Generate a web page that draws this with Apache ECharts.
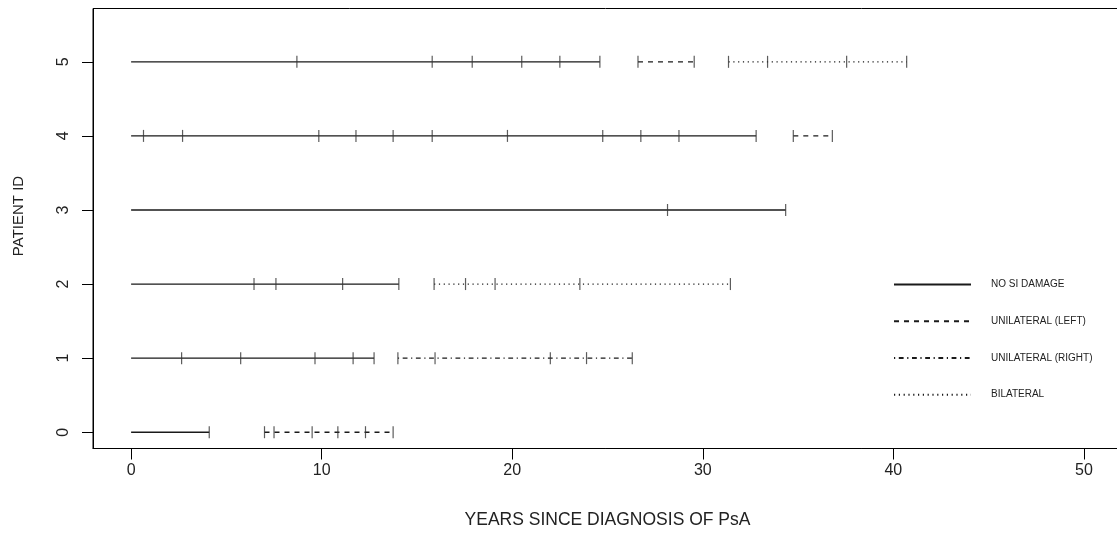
<!DOCTYPE html>
<html>
<head>
<meta charset="utf-8">
<script src="https://cdn.jsdelivr.net/npm/echarts@6/dist/echarts.min.js"></script>
<style>
  html, body { margin: 0; padding: 0; background: #fff; }
  #chart { width: 1117px; height: 533px; }
</style>
</head>
<body>
<div id="chart"></div>
<script>
// Disease states, in legend order
const stateNames = ['NO SI DAMAGE', 'UNILATERAL (LEFT)', 'UNILATERAL (RIGHT)', 'BILATERAL'];

// Visit times (years since diagnosis) per patient, grouped by the state observed
const p0None = [0, 4.1];
const p0Left = [7.0, 7.5, 9.5, 10.85, 12.3, 13.75];

const p1None = [0, 2.65, 5.75, 9.65, 11.65, 12.75];
const p1Right = [14.0, 15.95, 22.0, 23.9, 26.3];

const p2None = [0, 6.45, 7.6, 11.1, 14.05];
const p2Bilateral = [15.9, 17.55, 19.1, 23.55, 31.45];

const p3None = [0, 28.15, 34.35];

const p4None = [0, 0.65, 2.7, 9.85, 11.8, 13.75, 15.8, 19.75, 24.75, 26.75, 28.75, 32.8];
const p4Left = [34.75, 36.8];

const p5None = [0, 8.7, 15.8, 17.9, 20.5, 22.5, 24.6];
const p5Left = [26.6, 29.55];
const p5Bilateral = [31.35, 33.4, 37.55, 40.7];

// Axis tick labels
const xTicks = [0, 10, 20, 30, 40, 50];
const yTicks = [0, 1, 2, 3, 4, 5];

// Runs of one state: [patient id, visit times]
const runsByState = [
  [[0, p0None], [1, p1None], [2, p2None], [3, p3None], [4, p4None], [5, p5None]],
  [[0, p0Left], [4, p4Left], [5, p5Left]],
  [[1, p1Right]],
  [[2, p2Bilateral], [5, p5Bilateral]]
];

const dashes = [null, [5, 5], [1.2, 3.6, 4.8, 3.6], [1.2, 3.6]];
const ink = '#1a1a1a';

// One line series per state; '-' breaks the line between patients
const lineSeries = runsByState.map((runs, s) => {
  const data = [];
  runs.forEach(([id, times], i) => {
    if (i > 0) data.push('-');
    data.push([times[0], id]);
    data.push([times[times.length - 1], id]);
  });
  return {
    type: 'line',
    name: stateNames[s],
    data: data,
    symbol: 'none',
    connectNulls: false,
    silent: true,
    lineStyle: { color: ink, width: 1.35, type: dashes[s] ? dashes[s] : 'solid' },
    itemStyle: { color: ink }
  };
});

// Short vertical marks at every visit after diagnosis
const visitPoints = [];
runsByState.forEach(runs => runs.forEach(([id, times]) => {
  times.forEach(t => { if (t > 0) visitPoints.push([t, id]); });
}));

const tickSeries = {
  type: 'scatter',
  data: visitPoints,
  symbol: 'rect',
  symbolSize: [1.2, 12],
  silent: true,
  itemStyle: { color: '#333' },
  z: 3
};

const font = 'Liberation Sans, Arial, Helvetica, sans-serif';

const chart = echarts.init(document.getElementById('chart'), null, { renderer: 'canvas' });
chart.setOption({
  animation: false,
  backgroundColor: '#fff',
  grid: {
    left: 93, right: -5, top: 8.5, bottom: 84.5,
    show: true, borderColor: '#000', borderWidth: 1,
    outerBoundsMode: 'none'
  },
  xAxis: {
    type: 'value', min: -2, max: 52,
    axisLine: { show: true, onZero: false, lineStyle: { color: '#000', width: 1 } },
    axisTick: { show: true, customValues: xTicks, length: 11, inside: false, lineStyle: { color: '#000' } },
    axisLabel: { customValues: xTicks, margin: 14, fontSize: 16, color: '#222', fontFamily: font },
    splitLine: { show: false }
  },
  yAxis: {
    type: 'value', min: -0.22, max: 5.72,
    axisLine: { show: true, onZero: false, lineStyle: { color: '#000', width: 1 } },
    axisTick: { show: true, customValues: yTicks, length: 11, inside: false, lineStyle: { color: '#000' } },
    axisLabel: { customValues: yTicks, margin: 21, rotate: 90, fontSize: 16, color: '#222', fontFamily: font },
    splitLine: { show: false }
  },
  legend: {
    orient: 'vertical', left: 893, top: 279, padding: 0,
    itemWidth: 77, itemHeight: 14, itemGap: 25.5,
    selectedMode: false,
    data: stateNames,
    itemStyle: { opacity: 0 },
    textStyle: { fontSize: 10, color: '#222', fontFamily: font, padding: [0, 0, 0, 15] }
  },
  graphic: [
    {
      type: 'text', x: 607.5, y: 520,
      style: { text: 'YEARS SINCE DIAGNOSIS OF PsA', fill: '#222', font: '17.5px ' + font, align: 'center', verticalAlign: 'middle' }
    },
    {
      type: 'text', x: 19, y: 216, rotation: Math.PI / 2,
      style: { text: 'PATIENT ID', fill: '#222', font: '15px ' + font, align: 'center', verticalAlign: 'middle' }
    }
  ],
  series: lineSeries.concat([tickSeries])
});
</script>
</body>
</html>
